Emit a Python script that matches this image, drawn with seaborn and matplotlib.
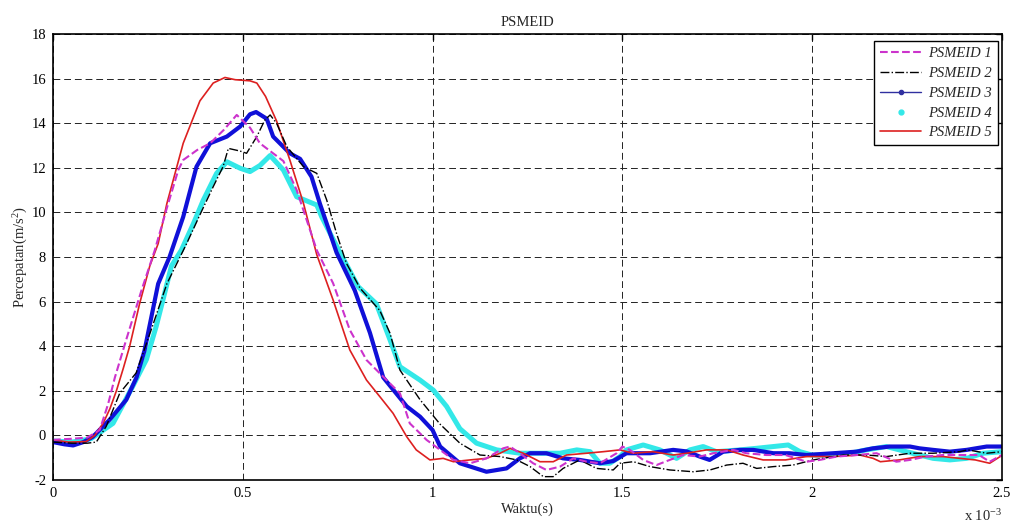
import matplotlib
matplotlib.use("Agg")
import matplotlib.pyplot as plt
from matplotlib.lines import Line2D
from matplotlib.ticker import FormatStrFormatter
import seaborn as sns

# Data (time in ms, acceleration in m/s^2)
x1 = [0.0, 0.05, 0.09, 0.123, 0.145, 0.163, 0.193, 0.233, 0.268, 0.3, 0.33, 0.343, 0.38, 0.414, 0.45,
      0.484, 0.519, 0.545, 0.607, 0.642, 0.695, 0.738, 0.782, 0.826, 0.87, 0.914, 0.94, 0.967, 0.984,
      1.02, 1.055, 1.099, 1.142, 1.186, 1.204, 1.23, 1.265, 1.3, 1.336, 1.371, 1.406, 1.441, 1.485, 1.5,
      1.52, 1.555, 1.59, 1.625, 1.66, 1.704, 1.74, 1.792, 1.827, 1.88, 1.93, 1.985, 2.02, 2.065, 2.117,
      2.17, 2.222, 2.258, 2.3, 2.345, 2.389, 2.44, 2.468, 2.5]
y1 = [-0.2, -0.15, -0.1, 0.24, 1.4, 2.6, 4.3, 6.5, 8.3, 10.2, 11.9, 12.35, 12.8, 13.1, 13.7,
      14.37, 13.8, 13.1, 12.3, 11.0, 8.3, 6.82, 4.73, 3.38, 2.63, 1.89, 0.54, 0.09, -0.2,
      -0.65, -1.1, -1.25, -1.03, -0.58, -0.5, -0.8, -1.25, -1.55, -1.4, -1.03, -1.18, -1.25, -0.8, -0.5,
      -0.65, -1.1, -1.33, -1.1, -0.88, -0.95, -0.8, -0.65, -0.8, -0.88, -0.88, -1.18, -1.1, -0.95, -0.88,
      -0.8, -1.18, -1.1, -0.95, -0.88, -0.88, -0.88, -1.18, -0.88]

x2 = [0.0, 0.05, 0.09, 0.114, 0.14, 0.176, 0.219, 0.26, 0.3, 0.352, 0.39, 0.422, 0.448, 0.462, 0.493,
      0.51, 0.537, 0.558, 0.572, 0.589, 0.616, 0.66, 0.695, 0.721, 0.747, 0.773, 0.809, 0.861, 0.888,
      0.914, 0.967, 1.02, 1.072, 1.125, 1.178, 1.222, 1.257, 1.292, 1.318, 1.344, 1.388, 1.432, 1.476,
      1.494, 1.529, 1.573, 1.625, 1.687, 1.731, 1.775, 1.818, 1.854, 1.898, 1.95, 2.003, 2.082, 2.143,
      2.196, 2.258, 2.319, 2.389, 2.41, 2.46, 2.5]
y2 = [-0.3, -0.35, -0.35, -0.3, 0.4, 1.9, 2.8, 4.8, 6.8, 8.6, 10.0, 11.15, 12.05, 12.87, 12.75,
      12.65, 13.4, 14.14, 14.37, 14.0, 12.95, 12.05, 11.75, 10.56, 9.06, 7.72, 6.6, 5.6, 4.58,
      2.93, 1.6, 0.5, -0.35, -0.88, -0.95, -1.1, -1.4, -1.85, -1.85, -1.48, -1.1, -1.48, -1.55,
      -1.25, -1.18, -1.4, -1.55, -1.63, -1.55, -1.33, -1.25, -1.48, -1.4, -1.33, -1.1, -0.88, -0.88,
      -0.95, -0.8, -0.8, -0.73, -0.65, -0.8, -0.73]

x3 = [0.0, 0.03, 0.053, 0.08, 0.105, 0.149, 0.193, 0.22, 0.241, 0.259, 0.277, 0.307, 0.343, 0.378,
      0.414, 0.458, 0.493, 0.519, 0.535, 0.563, 0.58, 0.624, 0.651, 0.681, 0.703, 0.73, 0.747, 0.795,
      0.835, 0.87, 0.932, 0.967, 1.0, 1.02, 1.072, 1.142, 1.195, 1.23, 1.257, 1.3, 1.344, 1.388, 1.441,
      1.476, 1.511, 1.573, 1.634, 1.67, 1.704, 1.73, 1.766, 1.81, 1.845, 1.898, 1.94, 1.985, 2.056,
      2.117, 2.161, 2.205, 2.258, 2.283, 2.319, 2.363, 2.407, 2.46, 2.5]
y3 = [-0.3, -0.4, -0.45, -0.3, -0.06, 0.7, 1.6, 2.6, 3.8, 5.3, 6.8, 8.0, 9.8, 12.05,
      13.1, 13.4, 13.85, 14.4, 14.5, 14.2, 13.4, 12.65, 12.4, 11.6, 10.4, 9.06, 8.2, 6.5,
      4.6, 2.6, 1.3, 0.84, 0.24, -0.5, -1.25, -1.63, -1.48, -1.03, -0.8, -0.8, -1.03, -1.1, -1.25,
      -1.15, -0.8, -0.8, -0.65, -0.72, -0.95, -1.1, -0.73, -0.65, -0.65, -0.8, -0.8, -0.88, -0.8,
      -0.73, -0.58, -0.5, -0.5, -0.58, -0.65, -0.73, -0.65, -0.5, -0.5]

x4 = [0.0, 0.05, 0.1, 0.158, 0.21, 0.246, 0.272, 0.29, 0.312, 0.338, 0.37, 0.396, 0.431, 0.458,
      0.493, 0.519, 0.545, 0.572, 0.607, 0.642, 0.695, 0.708, 0.73, 0.756, 0.804, 0.852, 0.888, 0.914,
      0.967, 1.002, 1.037, 1.072, 1.116, 1.169, 1.23, 1.274, 1.336, 1.38, 1.415, 1.441, 1.467, 1.494,
      1.511, 1.555, 1.599, 1.643, 1.678, 1.713, 1.748, 1.81, 1.853, 1.898, 1.937, 1.968, 2.0, 2.056,
      2.1, 2.143, 2.196, 2.23, 2.283, 2.319, 2.363, 2.407, 2.451, 2.5]
y4 = [-0.25, -0.3, -0.15, 0.54, 2.2, 3.4, 4.9, 6.1, 7.6, 8.3, 9.5, 10.55, 11.75, 12.27,
      11.98, 11.83, 12.1, 12.55, 11.9, 10.7, 10.33, 9.8, 9.06, 8.2, 6.67, 5.9, 4.28, 3.08,
      2.48, 2.03, 1.3, 0.3, -0.35, -0.65, -0.8, -0.8, -0.8, -0.65, -0.73, -1.25, -1.25, -0.95,
      -0.65, -0.43, -0.65, -1.03, -0.65, -0.5, -0.73, -0.65, -0.58, -0.5, -0.43, -0.73, -0.88, -0.88,
      -0.8, -0.65, -0.5, -0.65, -0.88, -1.03, -1.1, -1.03, -0.8, -0.73]

x5 = [0.0, 0.04, 0.087, 0.11, 0.132, 0.15, 0.167, 0.185, 0.202, 0.228, 0.255, 0.277, 0.3, 0.343,
      0.387, 0.422, 0.453, 0.48, 0.519, 0.537, 0.56, 0.589, 0.624, 0.66, 0.695, 0.738, 0.782, 0.826,
      0.861, 0.896, 0.932, 0.957, 0.993, 1.028, 1.055, 1.099, 1.142, 1.178, 1.204, 1.239, 1.283, 1.318,
      1.353, 1.406, 1.45, 1.494, 1.529, 1.58, 1.634, 1.67, 1.722, 1.775, 1.818, 1.871, 1.93, 1.985,
      2.056, 2.126, 2.161, 2.18, 2.23, 2.283, 2.345, 2.389, 2.43, 2.468, 2.5]
y5 = [-0.2, -0.3, -0.28, 0.0, 0.54, 1.2, 2.0, 3.0, 4.0, 5.9, 7.6, 8.6, 10.4, 13.1,
      15.0, 15.8, 16.05, 15.95, 15.9, 15.8, 15.2, 14.1, 12.35, 10.4, 8.1, 6.07, 3.83, 2.48,
      1.74, 0.99, -0.06, -0.65, -1.1, -1.03, -1.18, -1.1, -1.03, -0.8, -0.58, -0.8, -1.18, -1.18,
      -0.88, -0.8, -0.73, -0.65, -0.8, -0.73, -0.88, -0.8, -0.65, -0.65, -0.88, -1.1, -1.1, -0.95,
      -0.95, -0.88, -1.03, -1.18, -1.1, -0.95, -0.95, -1.03, -1.1, -1.25, -0.9]

labels = ["PSMEID 1", "PSMEID 2", "PSMEID 3", "PSMEID 4", "PSMEID 5"]
x_ticks = [0, 0.5, 1, 1.5, 2, 2.5]
y_ticks = [-2, 0, 2, 4, 6, 8, 10, 12, 14, 16, 18]


def main():
    sns.set_style("white")
    plt.rcParams["font.family"] = ["Liberation Serif", "DejaVu Serif"]
    plt.rcParams["mathtext.fontset"] = "custom"
    plt.rcParams["mathtext.rm"] = "Liberation Serif"
    plt.rcParams["mathtext.it"] = "Liberation Serif:italic"

    fig = plt.figure(figsize=(10.14, 5.27), dpi=100)
    ax = fig.add_axes([0.0523, 0.0892, 0.9357, 0.8463])

    magenta = "#cc33cc"
    blue = "#1010d8"
    cyan = "#33e8e8"
    red = "#dd2020"

    # thick lines first, thin ones on top
    sns.lineplot(x=x4, y=y4, ax=ax, color=cyan, lw=3.6, sort=False, estimator=None)
    sns.lineplot(x=x3, y=y3, ax=ax, color=blue, lw=3.0, sort=False, estimator=None)
    sns.lineplot(x=x5, y=y5, ax=ax, color=red, lw=1.2, sort=False, estimator=None)
    sns.lineplot(x=x2, y=y2, ax=ax, color="black", lw=1.0, linestyle="-.",
                 sort=False, estimator=None)
    sns.lineplot(x=x1, y=y1, ax=ax, color=magenta, lw=1.5, linestyle="--",
                 sort=False, estimator=None)

    ax.set_xlim(0, 2.5)
    ax.set_ylim(-2, 18)
    ax.set_xticks(x_ticks)
    ax.set_yticks(y_ticks)
    ax.xaxis.set_major_formatter(FormatStrFormatter("%g"))
    ax.yaxis.set_major_formatter(FormatStrFormatter("%g"))
    ax.tick_params(direction="in", length=4, width=1, top=True, right=True,
                   labelsize=10.5, colors="black", pad=5)
    ax.grid(True, color="#222222", lw=0.7, linestyle=(0, (7, 4)))
    for sp in ax.spines.values():
        sp.set_color("black")
        sp.set_linewidth(1.2)

    ax.set_title("PSMEID", fontsize=10.5, pad=6)
    ax.set_xlabel("Waktu(s)", fontsize=10.5, labelpad=2)
    ax.set_ylabel("Percepatan(m/s$^2$)", fontsize=10.5, labelpad=1)
    fig.text(0.951, 0.011, "x 10$^{-3}$", fontsize=10.5)

    handles = [
        Line2D([], [], color=magenta, lw=1.5, linestyle="--"),
        Line2D([], [], color="black", lw=1.0, linestyle="-."),
        Line2D([], [], color="#3030a0", lw=1.0, marker=".", markersize=6),
        Line2D([], [], color=cyan, lw=0, marker=".", markersize=7),
        Line2D([], [], color=red, lw=1.2),
    ]
    leg = ax.legend(handles, labels, loc="upper right", fancybox=False, framealpha=1,
                    edgecolor="black", handlelength=2.8, handletextpad=0.5,
                    borderpad=0.4, labelspacing=0.45, borderaxespad=0.2,
                    prop={"family": "Liberation Serif", "style": "italic", "size": 10.5},
                    bbox_to_anchor=(0.999, 0.99))
    leg.get_frame().set_linewidth(1.0)

    fig.savefig("out.png", dpi=100)


if __name__ == "__main__":
    main()
